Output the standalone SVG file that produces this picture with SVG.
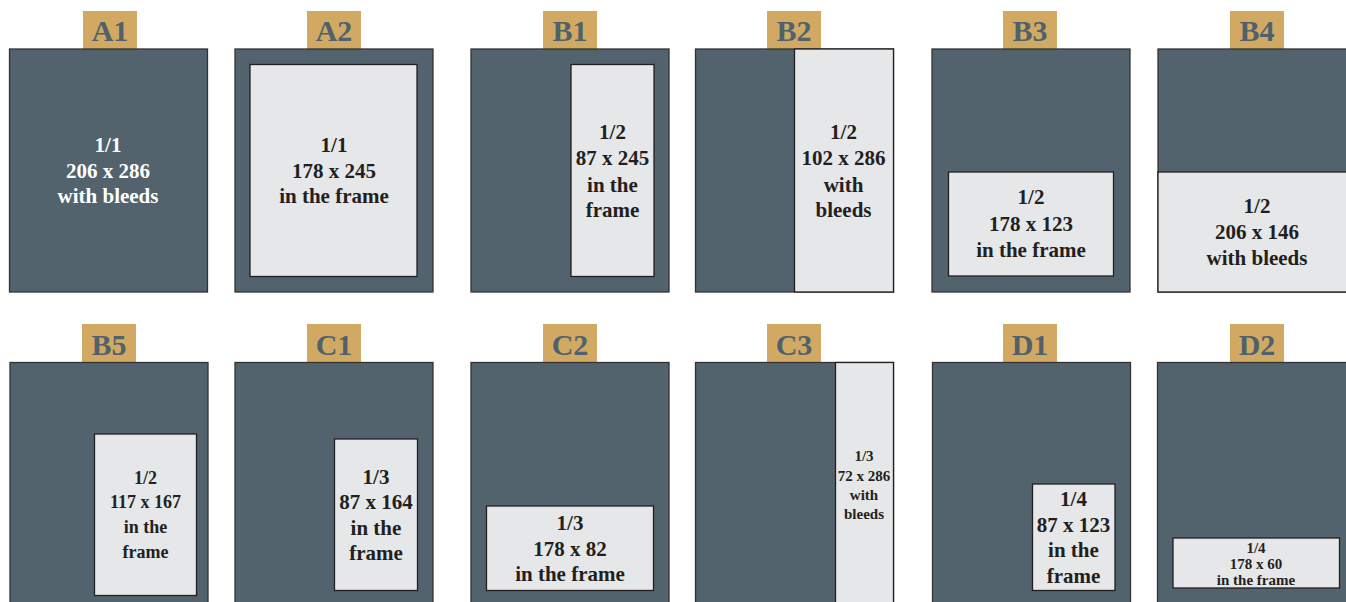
<svg xmlns="http://www.w3.org/2000/svg" width="1346" height="602" viewBox="0 0 1346 602">
<style>
.bg{fill:#ffffff}
.frame{fill:#52636d;stroke:#333333;stroke-width:1.3}
.ad{fill:#e6e7e8;stroke:#231f20;stroke-width:1.3}
.tag{fill:#d2a962}
.tagt{font-family:"Liberation Serif",serif;font-weight:bold;font-size:30px;fill:#4f626c;text-anchor:middle}
.t{font-family:"Liberation Serif",serif;font-weight:bold;font-size:21px;fill:#231f20;text-anchor:middle}
.w{fill:#ffffff}
.s18{font-size:18px}
.s14{font-size:15px}
</style>
<rect class="bg" x="0" y="0" width="1346" height="602"/>

<g id="A1">
<rect class="tag" x="83" y="11" width="54" height="38"/>
<text class="tagt" x="110" y="41">A1</text>
<rect class="frame" x="9.5" y="49" width="198" height="243"/>
<text class="t w" x="108" y="152">1/1</text>
<text class="t w" x="108" y="178">206 x 286</text>
<text class="t w" x="108" y="203">with bleeds</text>
</g>

<g id="A2">
<rect class="tag" x="307" y="11" width="54" height="38"/>
<text class="tagt" x="334" y="41">A2</text>
<rect class="frame" x="235" y="49" width="198" height="243"/>
<rect class="ad" x="250" y="64.5" width="167" height="212"/>
<text class="t" x="334" y="152">1/1</text>
<text class="t" x="334" y="178">178 x 245</text>
<text class="t" x="334" y="203">in the frame</text>
</g>

<g id="B1">
<rect class="tag" x="543" y="11" width="54" height="38"/>
<text class="tagt" x="570" y="41">B1</text>
<rect class="frame" x="471" y="49" width="198" height="243"/>
<rect class="ad" x="571" y="64.5" width="83" height="212"/>
<text class="t" x="612.5" y="138.5">1/2</text>
<text class="t" x="612.5" y="165">87 x 245</text>
<text class="t" x="612.5" y="191.5">in the</text>
<text class="t" x="612.5" y="216.5">frame</text>
</g>

<g id="B2">
<rect class="tag" x="767" y="11" width="54" height="38"/>
<text class="tagt" x="794" y="41">B2</text>
<rect class="frame" x="695.5" y="49" width="198" height="243"/>
<rect class="ad" x="794.5" y="49" width="99" height="243"/>
<text class="t" x="843.5" y="138.5">1/2</text>
<text class="t" x="843.5" y="165">102 x 286</text>
<text class="t" x="843.5" y="191.5">with</text>
<text class="t" x="843.5" y="216.5">bleeds</text>
</g>

<g id="B3">
<rect class="tag" x="1003" y="11" width="54" height="38"/>
<text class="tagt" x="1030" y="41">B3</text>
<rect class="frame" x="932" y="49" width="198" height="243"/>
<rect class="ad" x="948.5" y="172" width="165" height="104"/>
<text class="t" x="1031" y="204">1/2</text>
<text class="t" x="1031" y="230.5">178 x 123</text>
<text class="t" x="1031" y="256.5">in the frame</text>
</g>

<g id="B4">
<rect class="tag" x="1230" y="11" width="54" height="38"/>
<text class="tagt" x="1257" y="41">B4</text>
<rect class="frame" x="1158" y="49" width="198" height="243"/>
<rect class="ad" x="1158" y="172" width="198" height="120"/>
<text class="t" x="1257" y="212.5">1/2</text>
<text class="t" x="1257" y="238.5">206 x 146</text>
<text class="t" x="1257" y="265">with bleeds</text>
</g>

<g id="B5">
<rect class="tag" x="82" y="324" width="54" height="38.5"/>
<text class="tagt" x="109" y="355">B5</text>
<rect class="frame" x="10" y="362.5" width="198" height="250"/>
<rect class="ad" x="94.5" y="434" width="102" height="161.5"/>
<text class="t s18" x="145.5" y="484">1/2</text>
<text class="t s18" x="145.5" y="507.5">117 x 167</text>
<text class="t s18" x="145.5" y="532.5">in the</text>
<text class="t s18" x="145.5" y="557.5">frame</text>
</g>

<g id="C1">
<rect class="tag" x="307" y="324" width="54" height="38.5"/>
<text class="tagt" x="334" y="355">C1</text>
<rect class="frame" x="235" y="362.5" width="198" height="250"/>
<rect class="ad" x="334.5" y="439" width="83" height="151.5"/>
<text class="t" x="376" y="483.5">1/3</text>
<text class="t" x="376" y="509">87 x 164</text>
<text class="t" x="376" y="535">in the</text>
<text class="t" x="376" y="560">frame</text>
</g>

<g id="C2">
<rect class="tag" x="543" y="324" width="54" height="38.5"/>
<text class="tagt" x="570" y="355">C2</text>
<rect class="frame" x="471" y="362.5" width="198" height="250"/>
<rect class="ad" x="486.5" y="506" width="167" height="84.5"/>
<text class="t" x="570" y="530">1/3</text>
<text class="t" x="570" y="556">178 x 82</text>
<text class="t" x="570" y="581">in the frame</text>
</g>

<g id="C3">
<rect class="tag" x="767" y="324" width="54" height="38.5"/>
<text class="tagt" x="794" y="355">C3</text>
<rect class="frame" x="695.5" y="362.5" width="198" height="250"/>
<rect class="ad" x="835.5" y="362.5" width="58" height="250"/>
<text class="t s14" x="864" y="461">1/3</text>
<text class="t s14" x="864" y="480.5">72 x 286</text>
<text class="t s14" x="864" y="499.5">with</text>
<text class="t s14" x="864" y="519">bleeds</text>
</g>

<g id="D1">
<rect class="tag" x="1003" y="324" width="54" height="38.5"/>
<text class="tagt" x="1030" y="355">D1</text>
<rect class="frame" x="932.5" y="362.5" width="198" height="250"/>
<rect class="ad" x="1032.5" y="484" width="82.5" height="106.5"/>
<text class="t" x="1073.5" y="505.5">1/4</text>
<text class="t" x="1073.5" y="532">87 x 123</text>
<text class="t" x="1073.5" y="557">in the</text>
<text class="t" x="1073.5" y="582.5">frame</text>
</g>

<g id="D2">
<rect class="tag" x="1230" y="324" width="54" height="38.5"/>
<text class="tagt" x="1257" y="355">D2</text>
<rect class="frame" x="1157.5" y="362.5" width="198" height="250"/>
<rect class="ad" x="1173" y="538" width="166.5" height="50"/>
<text class="t s14" x="1256" y="553">1/4</text>
<text class="t s14" x="1256" y="569">178 x 60</text>
<text class="t s14" x="1256" y="585">in the frame</text>
</g>
</svg>
